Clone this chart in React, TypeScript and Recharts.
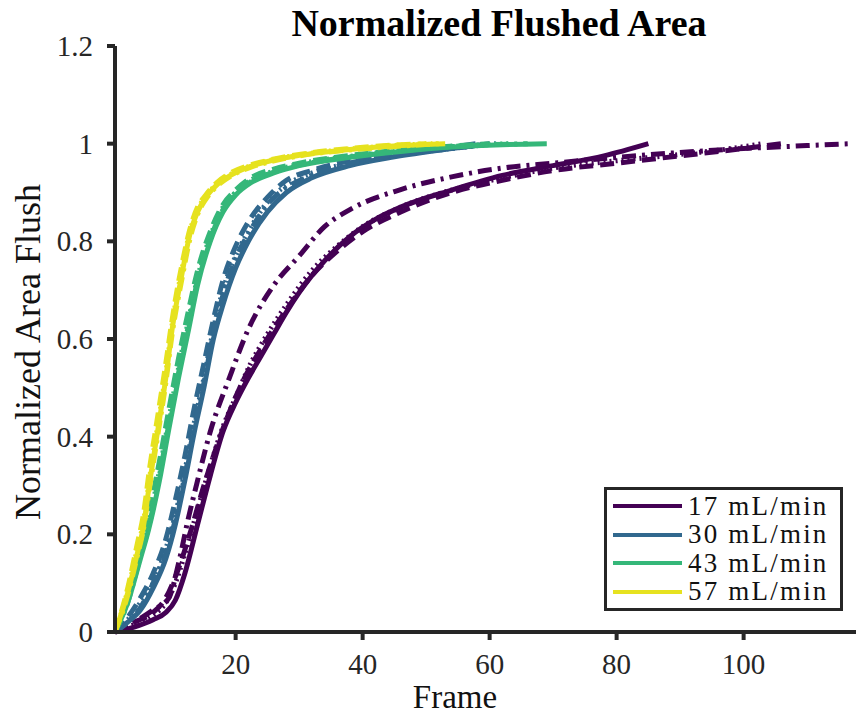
import React from 'react';
import { LineChart, Line, XAxis, YAxis } from 'recharts';

// [frame, normalized flushed area]
const flow17Solid = [[1,0],[4,0.01],[7,0.025],[9,0.04],[10.5,0.065],[12,0.12],[14,0.22],[16,0.32],[18,0.41],[20,0.47],[22,0.52],[24,0.565],[26,0.61],[28,0.655],[30,0.695],[34,0.76],[38,0.81],[42,0.845],[46,0.87],[54,0.905],[62,0.935],[70,0.955],[78,0.975],[85,1.0]];
const flow17Dashed = [[1,0],[4,0.02],[7,0.04],[9,0.07],[11,0.13],[13,0.21],[15,0.3],[17,0.38],[19,0.45],[21,0.51],[24,0.58],[28,0.66],[32,0.73],[36,0.78],[40,0.82],[46,0.86],[54,0.9],[62,0.925],[70,0.945],[80,0.96],[90,0.975],[100,0.99],[106,1.0]];
const flow17Dotted = [[1,0],[4,0.015],[7,0.035],[9,0.06],[10.5,0.1],[12,0.16],[14,0.25],[16,0.34],[18,0.42],[20,0.48],[22,0.54],[25,0.61],[28,0.67],[32,0.74],[36,0.79],[40,0.83],[46,0.87],[54,0.905],[62,0.93],[70,0.95],[80,0.965],[90,0.978],[98,0.99],[103,1.0]];
const flow17DashDot = [[1,0],[4,0.02],[7,0.045],[9.5,0.07],[11,0.14],[12.5,0.23],[14,0.31],[16,0.41],[19,0.52],[22,0.62],[26,0.71],[30,0.77],[34,0.83],[38,0.865],[46,0.906],[54,0.932],[62,0.95],[70,0.96],[80,0.972],[90,0.982],[100,0.99],[110,0.996],[117,1.0]];

const flow30Solid = [[1,0],[3,0.02],[5,0.045],[7,0.09],[9,0.15],[10.5,0.22],[12,0.31],[13.5,0.41],[15,0.5],[16.5,0.6],[18,0.67],[20,0.745],[22,0.8],[25,0.86],[28,0.9],[32,0.93],[38,0.955],[45,0.973],[54,0.99],[60,1.0]];
const flow30Dashed = [[1,0],[3,0.03],[5,0.07],[7,0.12],[9,0.19],[10.5,0.27],[12,0.36],[13.5,0.46],[15,0.55],[16.5,0.64],[18,0.72],[20,0.79],[22,0.84],[25,0.89],[28,0.925],[32,0.945],[38,0.965],[45,0.98],[52,0.99],[58,1.0]];
const flow30Dotted = [[1,0],[3,0.025],[5,0.06],[7,0.1],[9,0.17],[10.5,0.24],[12,0.33],[13.5,0.43],[15,0.52],[16.5,0.62],[18,0.7],[20,0.77],[22,0.82],[25,0.88],[28,0.915],[32,0.94],[38,0.96],[45,0.977],[54,0.99],[61,1.0]];
const flow30DashDot = [[1,0],[3,0.02],[5,0.05],[7,0.1],[9,0.16],[10.5,0.23],[12,0.32],[13.5,0.42],[15,0.51],[16.5,0.61],[18,0.69],[20,0.765],[22,0.815],[25,0.875],[28,0.91],[32,0.935],[38,0.96],[45,0.976],[54,0.99],[60,1.0]];

const flow43Solid = [[1,0],[3,0.06],[5,0.15],[6.3,0.21],[8,0.31],[9.4,0.41],[11,0.52],[12.6,0.62],[14,0.71],[16,0.8],[18,0.86],[20,0.895],[22.4,0.92],[26,0.94],[30,0.955],[38,0.972],[46,0.984],[54,0.993],[62,0.998],[69,1.0]];
const flow43Dashed = [[1,0],[3,0.07],[5,0.17],[6.3,0.24],[8,0.35],[9.4,0.45],[11,0.56],[12.6,0.66],[14,0.74],[16,0.82],[18,0.875],[20,0.905],[22.4,0.93],[26,0.948],[30,0.96],[38,0.976],[46,0.987],[54,0.995],[60,1.0]];
const flow43Dotted = [[1,0],[3,0.065],[5,0.16],[6.3,0.225],[8,0.33],[9.4,0.43],[11,0.54],[12.6,0.64],[14,0.725],[16,0.81],[18,0.87],[20,0.9],[22.4,0.925],[26,0.944],[30,0.958],[38,0.974],[46,0.986],[54,0.994],[63,1.0]];
const flow43DashDot = [[1,0],[3,0.06],[5,0.155],[6.3,0.215],[8,0.32],[9.4,0.42],[11,0.53],[12.6,0.63],[14,0.72],[16,0.805],[18,0.865],[20,0.9],[22.4,0.922],[26,0.942],[30,0.956],[38,0.973],[46,0.985],[54,0.994],[66,1.0]];

const flow57Solid = [[1,0],[3,0.08],[4.5,0.16],[5.4,0.21],[6.5,0.31],[7.7,0.41],[9,0.52],[10,0.62],[11.5,0.73],[12.9,0.82],[14,0.86],[15.3,0.89],[17,0.915],[19.2,0.935],[22,0.952],[25.5,0.965],[30,0.976],[38,0.988],[46,0.996],[53,1.0]];
const flow57Dashed = [[1,0],[3,0.09],[4.5,0.18],[5.4,0.235],[6.5,0.34],[7.7,0.44],[9,0.55],[10,0.64],[11.5,0.75],[12.9,0.83],[14,0.87],[15.3,0.895],[17,0.92],[19.2,0.94],[22,0.955],[25.5,0.967],[30,0.978],[38,0.99],[46,0.998],[50,1.0]];
const flow57Dotted = [[1,0],[3,0.085],[4.5,0.17],[5.4,0.22],[6.5,0.32],[7.7,0.42],[9,0.53],[10,0.63],[11.5,0.74],[12.9,0.825],[14,0.865],[15.3,0.892],[17,0.917],[19.2,0.937],[22,0.953],[25.5,0.966],[30,0.977],[38,0.989],[46,0.997],[51,1.0]];
const flow57DashDot = [[1,0],[3,0.075],[4.5,0.155],[5.4,0.205],[6.5,0.3],[7.7,0.4],[9,0.51],[10,0.61],[11.5,0.72],[12.9,0.81],[14,0.855],[15.3,0.886],[17,0.912],[19.2,0.933],[22,0.95],[25.5,0.963],[30,0.975],[38,0.987],[46,0.995],[52,1.0]];

const flowLabels = ['17 mL/min', '30 mL/min', '43 mL/min', '57 mL/min'];
const flowColors = ['#440154', '#31688e', '#35b779', '#e6e21f'];
const xTicks = [20, 40, 60, 80, 100];
const yTicks = [0, 0.2, 0.4, 0.6, 0.8, 1, 1.2];

const runsByFlow = [
  [flow17Solid, flow17Dashed, flow17Dotted, flow17DashDot],
  [flow30Solid, flow30Dashed, flow30Dotted, flow30DashDot],
  [flow43Solid, flow43Dashed, flow43Dotted, flow43DashDot],
  [flow57Solid, flow57Dashed, flow57Dotted, flow57DashDot],
];
const dashes = [undefined, '14 7', '2 4', '14 6 3 6'];

const toPoints = (run: number[][]) => run.map(([frame, area]) => ({ frame, area }));

const serif = '"Liberation Serif", "Times New Roman", serif';
const axisColor = '#262626';

const fmt = (v: number) => String(Math.round(v * 10) / 10);

const XTick = (props: any) => {
  const { x, y, payload } = props;
  return (
    <text x={x} y={y} dy={22} textAnchor="middle" fill="#262626" fontSize={29} fontFamily={serif}>
      {fmt(payload.value)}
    </text>
  );
};

const YTick = (props: any) => {
  const { x, y, payload } = props;
  return (
    <text x={x} y={y} dy={10} textAnchor="end" fill="#262626" fontSize={29} fontFamily={serif}>
      {fmt(payload.value)}
    </text>
  );
};

export default function App() {
  return (
    <div style={{ position: 'absolute', left: 0, top: 0, width: 856, height: 717, background: '#fff', fontFamily: serif, overflow: 'hidden' }}>
      <LineChart width={856} height={717} margin={{ top: 46, right: 0, bottom: 0, left: 0 }} style={{ fontFamily: serif }}>
        <XAxis
          type="number"
          dataKey="frame"
          domain={[1, 117.7]}
          allowDataOverflow
          ticks={xTicks}
          height={85}
          tickSize={8}
          tickMargin={12}
          stroke={axisColor}
          strokeWidth={4}
          tick={<XTick />}
        />
        <YAxis
          type="number"
          dataKey="area"
          domain={[0, 1.2]}
          ticks={yTicks}
          width={115}
          tickSize={8}
          tickMargin={14}
          stroke={axisColor}
          strokeWidth={4}
          tick={<YTick />}
        />
        {runsByFlow.map((runs, fi) =>
          runs.map((run, ri) => (
            <Line
              key={`${fi}-${ri}`}
              data={toPoints(run)}
              dataKey="area"
              type="monotone"
              stroke={flowColors[fi]}
              strokeWidth={5}
              strokeDasharray={dashes[ri]}
              dot={false}
              activeDot={false}
              isAnimationActive={false}
            />
          ))
        )}
      </LineChart>

      <div style={{ position: 'absolute', left: 0, width: 998, top: 1, textAlign: 'center', fontSize: 38, lineHeight: '44px', fontWeight: 'bold', color: '#000' }}>
        Normalized Flushed Area
      </div>
      <div style={{ position: 'absolute', left: 0, width: 910, top: 683, textAlign: 'center', fontSize: 33, lineHeight: '28px', color: '#111' }}>
        Frame
      </div>
      <div
        style={{
          position: 'absolute', left: 28, top: 352, width: 400, marginLeft: -200, marginTop: -20,
          textAlign: 'center', fontSize: 36, color: '#111', transform: 'rotate(-90deg)', lineHeight: '40px',
        }}
      >
        Normalized Area Flush
      </div>

      <div
        style={{
          position: 'absolute', left: 604, top: 487, width: 233, height: 118,
          border: `3px solid ${axisColor}`, background: '#fff', boxSizing: 'content-box',
        }}
      >
        {flowLabels.map((label, i) => (
          <div key={label} style={{ display: 'flex', alignItems: 'center', height: 28.5, marginTop: i === 0 ? 2 : 0 }}>
            <div style={{ width: 69, height: 4, background: flowColors[i], marginLeft: 6, marginRight: 6 }} />
            <span style={{ fontSize: 27, letterSpacing: 2.2, color: '#111', whiteSpace: 'nowrap' }}>{label}</span>
          </div>
        ))}
      </div>
    </div>
  );
}
